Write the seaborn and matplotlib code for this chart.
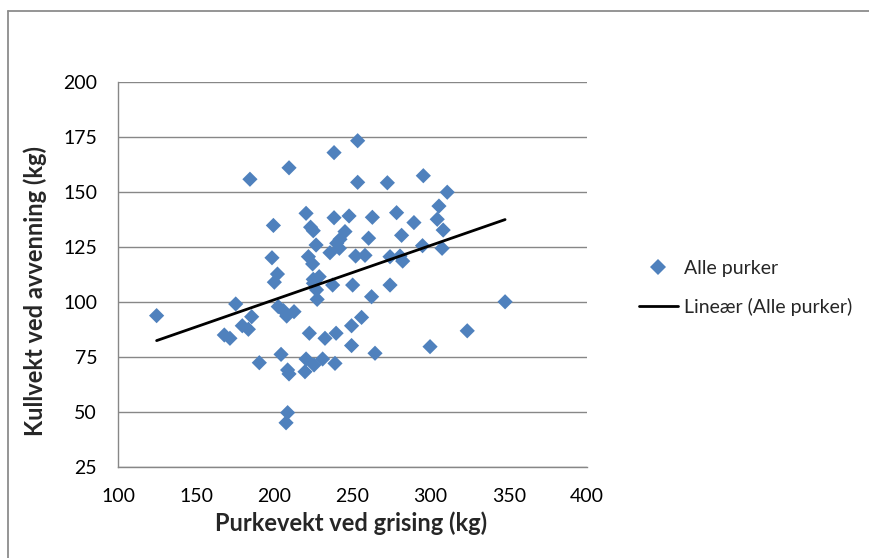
import matplotlib
matplotlib.use("Agg")
import matplotlib.pyplot as plt
from matplotlib.lines import Line2D
import seaborn as sns
import pandas as pd

# Sow weight at farrowing (kg) and litter weight at weaning (kg)
purkevekt = [
    124.7, 184.4, 209.4, 199.4, 198.5, 202.0, 200.0, 175.3, 168.0, 171.6,
    179.5, 185.5, 183.4, 202.5, 207.9, 212.6, 205.8, 190.4, 204.3, 208.5,
    209.4, 208.5, 207.5, 238.2, 253.3, 253.3, 272.3, 295.3, 310.6, 220.3,
    238.2, 247.8, 262.7, 278.2, 305.3, 304.2, 289.3, 223.2, 224.9, 245.2,
    242.0, 239.9, 260.3, 281.4, 308.0, 226.7, 307.3, 294.8, 221.8, 224.5,
    235.6, 241.6, 252.0, 258.0, 274.0, 280.4, 282.1, 224.9, 228.7, 237.3,
    250.1, 274.0, 225.0, 227.0, 227.4, 262.2, 255.8, 249.4, 222.4, 232.4,
    239.5, 249.4, 264.4, 299.6, 220.3, 219.6, 225.4, 230.9, 238.8, 347.6,
    323.4,
]
kullvekt = [
    93.8, 155.8, 161.0, 134.8, 120.1, 112.7, 109.0, 99.1, 85.0, 83.5,
    89.2, 93.3, 87.6, 97.9, 93.6, 95.6, 96.1, 72.4, 76.2, 69.1,
    67.3, 49.7, 45.1, 167.9, 173.3, 154.4, 154.2, 157.4, 149.9, 140.3,
    138.3, 139.1, 138.5, 140.6, 143.6, 137.6, 136.1, 134.0, 132.4, 132.0,
    128.5, 126.7, 129.0, 130.3, 132.7, 125.9, 124.4, 125.6, 120.6, 117.3,
    122.4, 124.4, 120.9, 121.2, 120.6, 120.9, 118.6, 110.3, 111.5, 107.7,
    107.7, 107.7, 108.5, 105.5, 101.2, 102.4, 93.0, 89.2, 85.8, 83.5,
    85.8, 80.2, 76.7, 79.7, 74.1, 68.3, 71.4, 74.1, 72.1, 100.1,
    86.9,
]

x_ticks = [100, 150, 200, 250, 300, 350, 400]
y_ticks = [25, 50, 75, 100, 125, 150, 175, 200]

serie_navn = "Alle purker"
trend_navn = "Lineær (Alle purker)"
x_tittel = "Purkevekt ved grising (kg)"
y_tittel = "Kullvekt ved avvenning (kg)"

df = pd.DataFrame({"purkevekt": purkevekt, "kullvekt": kullvekt})

sns.set_style("white")
plt.rcParams["font.family"] = ["Lato", "DejaVu Sans"]

BLUE = "#4F81BD"
GRID = "#878787"

fig = plt.figure(figsize=(8.69, 5.58), dpi=100)
ax = fig.add_axes([118 / 869, 1 - 467 / 558, 469 / 869, 385 / 558])

sns.scatterplot(data=df, x="purkevekt", y="kullvekt", marker="D", s=60,
                color=BLUE, edgecolor="none", linewidth=0, ax=ax, zorder=3,
                legend=False)
sns.regplot(data=df, x="purkevekt", y="kullvekt", scatter=False, ci=None,
            color="black", line_kws={"linewidth": 2.0, "zorder": 4}, ax=ax)

ax.set_xlim(100, 400)
ax.set_ylim(25, 200)
ax.set_xticks(x_ticks)
ax.set_yticks(y_ticks)
ax.tick_params(axis="both", labelsize=14, colors="black", direction="out",
               length=5, width=1, color=GRID)
ax.tick_params(axis="y", pad=10)
ax.tick_params(axis="x", pad=10)

ax.grid(False)
ax.yaxis.grid(True, color=GRID, linewidth=1.0)
ax.set_axisbelow(True)
for side in ("top", "right"):
    ax.spines[side].set_visible(False)
for side in ("left", "bottom"):
    ax.spines[side].set_color(GRID)
    ax.spines[side].set_linewidth(1.0)

ax.set_xlabel(x_tittel, fontsize=17, fontweight="bold", va="center")
ax.xaxis.set_label_coords(0.498, (467 - 523) / 385)
ax.set_ylabel(y_tittel, fontsize=17, fontweight="bold", va="center")
ax.yaxis.set_label_coords((35 - 118) / 469, (467 - 291) / 385)

handles = [
    Line2D([], [], marker="D", linestyle="none", color=BLUE,
           markeredgewidth=0, markersize=7.8),
    Line2D([], [], color="black", linewidth=2.0),
]
fig.legend(handles, [serie_navn, trend_navn], loc="center left",
           bbox_to_anchor=(639 / 869, 1 - 288 / 558), frameon=False,
           fontsize=14, handlelength=2.0, handletextpad=0.3,
           labelspacing=1.06, borderpad=0, borderaxespad=0)

# chart area frame (top and left edges)
fig.add_artist(Line2D([8 / 869, 1.0], [1 - 10.5 / 558, 1 - 10.5 / 558],
                      transform=fig.transFigure, color="#8c8c8c", linewidth=1.3))
fig.add_artist(Line2D([8 / 869, 8 / 869], [0.0, 1 - 10.5 / 558],
                      transform=fig.transFigure, color="#8c8c8c", linewidth=1.3))

fig.savefig("out.png", dpi=100, facecolor="white")
